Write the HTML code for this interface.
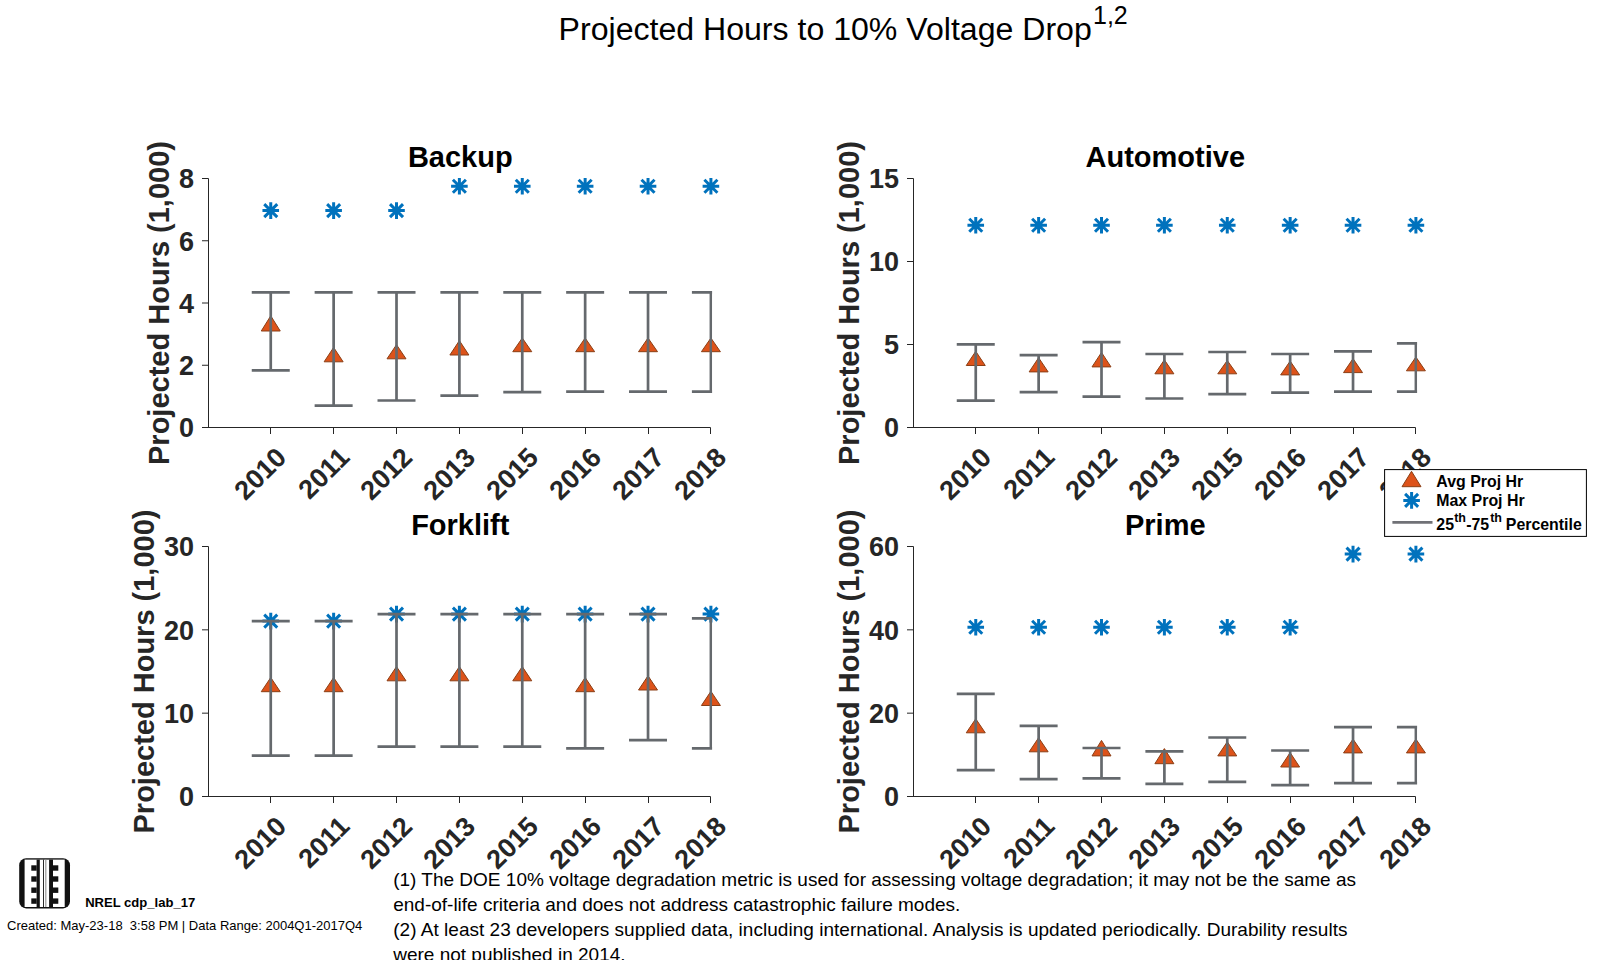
<!DOCTYPE html><html><head><meta charset="utf-8"><title>Projected Hours to 10% Voltage Drop</title><style>html,body{margin:0;padding:0;background:#fff;}svg{display:block;}text{font-family:"Liberation Sans",Arial,Helvetica,sans-serif;}</style></head><body>
<svg width="1600" height="960" viewBox="0 0 1600 960">
<rect width="1600" height="960" fill="#fff"/>
<text x="558.6" y="40" font-size="32.1" fill="#000">Projected Hours to 10% Voltage Drop</text><text x="1093" y="23.8" font-size="25" fill="#000">1,2</text>
<defs><clipPath id="c0"><rect x="208.5" y="178.5" width="503.6" height="249"/></clipPath><clipPath id="c1"><rect x="913.5" y="178.5" width="503.6" height="249"/></clipPath><clipPath id="c2"><rect x="208.5" y="546.5" width="503.6" height="250"/></clipPath><clipPath id="c3"><rect x="913.5" y="546.5" width="503.6" height="250"/></clipPath></defs>
<g><path d="M208.5 178.5V427.5M202 427.5H710.5" stroke="#262626" stroke-width="1" fill="none"/><text x="194" y="437.4" font-size="27" font-weight="bold" text-anchor="end" fill="#262626">0</text><text x="194" y="375.15" font-size="27" font-weight="bold" text-anchor="end" fill="#262626">2</text><text x="194" y="312.9" font-size="27" font-weight="bold" text-anchor="end" fill="#262626">4</text><text x="194" y="250.65" font-size="27" font-weight="bold" text-anchor="end" fill="#262626">6</text><text x="194" y="188.4" font-size="27" font-weight="bold" text-anchor="end" fill="#262626">8</text><text transform="translate(288,459) rotate(-45)" font-size="27" font-weight="bold" text-anchor="end" fill="#262626">2010</text><text transform="translate(351,459) rotate(-45)" font-size="27" font-weight="bold" text-anchor="end" fill="#262626">2011</text><text transform="translate(414,459) rotate(-45)" font-size="27" font-weight="bold" text-anchor="end" fill="#262626">2012</text><text transform="translate(477,459) rotate(-45)" font-size="27" font-weight="bold" text-anchor="end" fill="#262626">2013</text><text transform="translate(540,459) rotate(-45)" font-size="27" font-weight="bold" text-anchor="end" fill="#262626">2015</text><text transform="translate(603,459) rotate(-45)" font-size="27" font-weight="bold" text-anchor="end" fill="#262626">2016</text><text transform="translate(666,459) rotate(-45)" font-size="27" font-weight="bold" text-anchor="end" fill="#262626">2017</text><text transform="translate(728,459) rotate(-45)" font-size="27" font-weight="bold" text-anchor="end" fill="#262626">2018</text><path d="M202 427.5H208.5M202 365.25H208.5M202 303H208.5M202 240.75H208.5M202 178.5H208.5M270.5 427.5v6.5M333.5 427.5v6.5M396.5 427.5v6.5M459.5 427.5v6.5M522.5 427.5v6.5M585.5 427.5v6.5M648.5 427.5v6.5M710.5 427.5v6.5" stroke="#262626" stroke-width="1" fill="none"/><text x="460.3" y="166.9" font-size="29" font-weight="bold" text-anchor="middle" fill="#000">Backup</text><text transform="translate(169.3,303) rotate(-90)" font-size="29" font-weight="bold" text-anchor="middle" fill="#262626">Projected Hours (1,000)</text><path d="M262.45 210.6H279.05M270.75 202.3V218.9M264.25 204.1L277.25 217.1M264.25 217.1L277.25 204.1" stroke="#0072bd" stroke-width="3.0" fill="none"/><path d="M325.33 210.6H341.93M333.63 202.3V218.9M327.13 204.1L340.13 217.1M327.13 217.1L340.13 204.1" stroke="#0072bd" stroke-width="3.0" fill="none"/><path d="M388.21 210.6H404.81M396.51 202.3V218.9M390.01 204.1L403.01 217.1M390.01 217.1L403.01 204.1" stroke="#0072bd" stroke-width="3.0" fill="none"/><path d="M451.09 186.3H467.69M459.39 178V194.6M452.89 179.8L465.89 192.8M452.89 192.8L465.89 179.8" stroke="#0072bd" stroke-width="3.0" fill="none"/><path d="M513.97 186.3H530.57M522.27 178V194.6M515.77 179.8L528.77 192.8M515.77 192.8L528.77 179.8" stroke="#0072bd" stroke-width="3.0" fill="none"/><path d="M576.85 186.3H593.45M585.15 178V194.6M578.65 179.8L591.65 192.8M578.65 192.8L591.65 179.8" stroke="#0072bd" stroke-width="3.0" fill="none"/><path d="M639.73 186.3H656.33M648.03 178V194.6M641.53 179.8L654.53 192.8M641.53 192.8L654.53 179.8" stroke="#0072bd" stroke-width="3.0" fill="none"/><path d="M702.61 186.3H719.21M710.91 178V194.6M704.41 179.8L717.41 192.8M704.41 192.8L717.41 179.8" stroke="#0072bd" stroke-width="3.0" fill="none"/><path d="M270.75 315.8L280.25 331L261.25 331Z" fill="#dd531a" stroke="#8a3f16" stroke-width="1"/><path d="M333.63 347.4L343.13 361.8L324.13 361.8Z" fill="#dd531a" stroke="#8a3f16" stroke-width="1"/><path d="M396.51 344.7L406.01 358.8L387.01 358.8Z" fill="#dd531a" stroke="#8a3f16" stroke-width="1"/><path d="M459.39 340.6L468.89 355L449.89 355Z" fill="#dd531a" stroke="#8a3f16" stroke-width="1"/><path d="M522.27 338L531.77 351.7L512.77 351.7Z" fill="#dd531a" stroke="#8a3f16" stroke-width="1"/><path d="M585.15 338L594.65 351.7L575.65 351.7Z" fill="#dd531a" stroke="#8a3f16" stroke-width="1"/><path d="M648.03 338L657.53 351.7L638.53 351.7Z" fill="#dd531a" stroke="#8a3f16" stroke-width="1"/><path d="M710.91 338L720.41 351.7L701.41 351.7Z" fill="#dd531a" stroke="#8a3f16" stroke-width="1"/><path d="M270.75 292.4V370.4M251.75 292.4H289.75M251.75 370.4H289.75M333.63 292.4V405.6M314.63 292.4H352.63M314.63 405.6H352.63M396.51 292.4V400.5M377.51 292.4H415.51M377.51 400.5H415.51M459.39 292.4V395.6M440.39 292.4H478.39M440.39 395.6H478.39M522.27 292.4V392.1M503.27 292.4H541.27M503.27 392.1H541.27M585.15 292.4V391.6M566.15 292.4H604.15M566.15 391.6H604.15M648.03 292.4V391.6M629.03 292.4H667.03M629.03 391.6H667.03M710.91 292.4V391.6M691.91 292.4H729.91M691.91 391.6H729.91" stroke="#65696d" stroke-width="2.7" fill="none" clip-path="url(#c0)"/></g>
<g><path d="M913.5 178.5V427.5M907 427.5H1415.5" stroke="#262626" stroke-width="1" fill="none"/><text x="899" y="437.4" font-size="27" font-weight="bold" text-anchor="end" fill="#262626">0</text><text x="899" y="354.4" font-size="27" font-weight="bold" text-anchor="end" fill="#262626">5</text><text x="899" y="271.4" font-size="27" font-weight="bold" text-anchor="end" fill="#262626">10</text><text x="899" y="188.4" font-size="27" font-weight="bold" text-anchor="end" fill="#262626">15</text><text transform="translate(993,459) rotate(-45)" font-size="27" font-weight="bold" text-anchor="end" fill="#262626">2010</text><text transform="translate(1056,459) rotate(-45)" font-size="27" font-weight="bold" text-anchor="end" fill="#262626">2011</text><text transform="translate(1119,459) rotate(-45)" font-size="27" font-weight="bold" text-anchor="end" fill="#262626">2012</text><text transform="translate(1182,459) rotate(-45)" font-size="27" font-weight="bold" text-anchor="end" fill="#262626">2013</text><text transform="translate(1245,459) rotate(-45)" font-size="27" font-weight="bold" text-anchor="end" fill="#262626">2015</text><text transform="translate(1308,459) rotate(-45)" font-size="27" font-weight="bold" text-anchor="end" fill="#262626">2016</text><text transform="translate(1371,459) rotate(-45)" font-size="27" font-weight="bold" text-anchor="end" fill="#262626">2017</text><text transform="translate(1433,459) rotate(-45)" font-size="27" font-weight="bold" text-anchor="end" fill="#262626">2018</text><path d="M907 427.5H913.5M907 344.5H913.5M907 261.5H913.5M907 178.5H913.5M975.5 427.5v6.5M1038.5 427.5v6.5M1101.5 427.5v6.5M1164.5 427.5v6.5M1227.5 427.5v6.5M1290.5 427.5v6.5M1353.5 427.5v6.5M1415.5 427.5v6.5" stroke="#262626" stroke-width="1" fill="none"/><text x="1165.3" y="166.9" font-size="29" font-weight="bold" text-anchor="middle" fill="#000">Automotive</text><text transform="translate(858.8,303) rotate(-90)" font-size="29" font-weight="bold" text-anchor="middle" fill="#262626">Projected Hours (1,000)</text><path d="M967.45 225.2H984.05M975.75 216.9V233.5M969.25 218.7L982.25 231.7M969.25 231.7L982.25 218.7" stroke="#0072bd" stroke-width="3.0" fill="none"/><path d="M1030.33 225.2H1046.93M1038.63 216.9V233.5M1032.13 218.7L1045.13 231.7M1032.13 231.7L1045.13 218.7" stroke="#0072bd" stroke-width="3.0" fill="none"/><path d="M1093.21 225.2H1109.81M1101.51 216.9V233.5M1095.01 218.7L1108.01 231.7M1095.01 231.7L1108.01 218.7" stroke="#0072bd" stroke-width="3.0" fill="none"/><path d="M1156.09 225.2H1172.69M1164.39 216.9V233.5M1157.89 218.7L1170.89 231.7M1157.89 231.7L1170.89 218.7" stroke="#0072bd" stroke-width="3.0" fill="none"/><path d="M1218.97 225.2H1235.57M1227.27 216.9V233.5M1220.77 218.7L1233.77 231.7M1220.77 231.7L1233.77 218.7" stroke="#0072bd" stroke-width="3.0" fill="none"/><path d="M1281.85 225.2H1298.45M1290.15 216.9V233.5M1283.65 218.7L1296.65 231.7M1283.65 231.7L1296.65 218.7" stroke="#0072bd" stroke-width="3.0" fill="none"/><path d="M1344.73 225.2H1361.33M1353.03 216.9V233.5M1346.53 218.7L1359.53 231.7M1346.53 231.7L1359.53 218.7" stroke="#0072bd" stroke-width="3.0" fill="none"/><path d="M1407.61 225.2H1424.21M1415.91 216.9V233.5M1409.41 218.7L1422.41 231.7M1409.41 231.7L1422.41 218.7" stroke="#0072bd" stroke-width="3.0" fill="none"/><path d="M975.75 351.3L985.25 365.5L966.25 365.5Z" fill="#dd531a" stroke="#8a3f16" stroke-width="1"/><path d="M1038.63 357.7L1048.13 371.9L1029.13 371.9Z" fill="#dd531a" stroke="#8a3f16" stroke-width="1"/><path d="M1101.51 352.4L1111.01 366.9L1092.01 366.9Z" fill="#dd531a" stroke="#8a3f16" stroke-width="1"/><path d="M1164.39 359.8L1173.89 373.8L1154.89 373.8Z" fill="#dd531a" stroke="#8a3f16" stroke-width="1"/><path d="M1227.27 360.5L1236.77 373.8L1217.77 373.8Z" fill="#dd531a" stroke="#8a3f16" stroke-width="1"/><path d="M1290.15 361.1L1299.65 374.9L1280.65 374.9Z" fill="#dd531a" stroke="#8a3f16" stroke-width="1"/><path d="M1353.03 358.6L1362.53 372.6L1343.53 372.6Z" fill="#dd531a" stroke="#8a3f16" stroke-width="1"/><path d="M1415.91 357L1425.41 370.8L1406.41 370.8Z" fill="#dd531a" stroke="#8a3f16" stroke-width="1"/><path d="M975.75 344.4V400.6M956.75 344.4H994.75M956.75 400.6H994.75M1038.63 355.2V392.1M1019.63 355.2H1057.63M1019.63 392.1H1057.63M1101.51 342.1V396.7M1082.51 342.1H1120.51M1082.51 396.7H1120.51M1164.39 354V398.5M1145.39 354H1183.39M1145.39 398.5H1183.39M1227.27 352V394.2M1208.27 352H1246.27M1208.27 394.2H1246.27M1290.15 354V392.6M1271.15 354H1309.15M1271.15 392.6H1309.15M1353.03 351.3V391.6M1334.03 351.3H1372.03M1334.03 391.6H1372.03M1415.91 343.3V391.6M1396.91 343.3H1434.91M1396.91 391.6H1434.91" stroke="#65696d" stroke-width="2.7" fill="none" clip-path="url(#c1)"/></g>
<g><path d="M208.5 546.5V796.5M202 796.5H710.5" stroke="#262626" stroke-width="1" fill="none"/><text x="194" y="806.4" font-size="27" font-weight="bold" text-anchor="end" fill="#262626">0</text><text x="194" y="723.07" font-size="27" font-weight="bold" text-anchor="end" fill="#262626">10</text><text x="194" y="639.73" font-size="27" font-weight="bold" text-anchor="end" fill="#262626">20</text><text x="194" y="556.4" font-size="27" font-weight="bold" text-anchor="end" fill="#262626">30</text><text transform="translate(288,828) rotate(-45)" font-size="27" font-weight="bold" text-anchor="end" fill="#262626">2010</text><text transform="translate(351,828) rotate(-45)" font-size="27" font-weight="bold" text-anchor="end" fill="#262626">2011</text><text transform="translate(414,828) rotate(-45)" font-size="27" font-weight="bold" text-anchor="end" fill="#262626">2012</text><text transform="translate(477,828) rotate(-45)" font-size="27" font-weight="bold" text-anchor="end" fill="#262626">2013</text><text transform="translate(540,828) rotate(-45)" font-size="27" font-weight="bold" text-anchor="end" fill="#262626">2015</text><text transform="translate(603,828) rotate(-45)" font-size="27" font-weight="bold" text-anchor="end" fill="#262626">2016</text><text transform="translate(666,828) rotate(-45)" font-size="27" font-weight="bold" text-anchor="end" fill="#262626">2017</text><text transform="translate(728,828) rotate(-45)" font-size="27" font-weight="bold" text-anchor="end" fill="#262626">2018</text><path d="M202 796.5H208.5M202 713.17H208.5M202 629.83H208.5M202 546.5H208.5M270.5 796.5v6.5M333.5 796.5v6.5M396.5 796.5v6.5M459.5 796.5v6.5M522.5 796.5v6.5M585.5 796.5v6.5M648.5 796.5v6.5M710.5 796.5v6.5" stroke="#262626" stroke-width="1" fill="none"/><text x="460.3" y="534.9" font-size="29" font-weight="bold" text-anchor="middle" fill="#000">Forklift</text><text transform="translate(153.8,671.5) rotate(-90)" font-size="29" font-weight="bold" text-anchor="middle" fill="#262626">Projected Hours (1,000)</text><path d="M262.45 621.1H279.05M270.75 612.8V629.4M264.25 614.6L277.25 627.6M264.25 627.6L277.25 614.6" stroke="#0072bd" stroke-width="3.0" fill="none"/><path d="M325.33 621.1H341.93M333.63 612.8V629.4M327.13 614.6L340.13 627.6M327.13 627.6L340.13 614.6" stroke="#0072bd" stroke-width="3.0" fill="none"/><path d="M388.21 614.1H404.81M396.51 605.8V622.4M390.01 607.6L403.01 620.6M390.01 620.6L403.01 607.6" stroke="#0072bd" stroke-width="3.0" fill="none"/><path d="M451.09 614.1H467.69M459.39 605.8V622.4M452.89 607.6L465.89 620.6M452.89 620.6L465.89 607.6" stroke="#0072bd" stroke-width="3.0" fill="none"/><path d="M513.97 614.1H530.57M522.27 605.8V622.4M515.77 607.6L528.77 620.6M515.77 620.6L528.77 607.6" stroke="#0072bd" stroke-width="3.0" fill="none"/><path d="M576.85 614.1H593.45M585.15 605.8V622.4M578.65 607.6L591.65 620.6M578.65 620.6L591.65 607.6" stroke="#0072bd" stroke-width="3.0" fill="none"/><path d="M639.73 614.1H656.33M648.03 605.8V622.4M641.53 607.6L654.53 620.6M641.53 620.6L654.53 607.6" stroke="#0072bd" stroke-width="3.0" fill="none"/><path d="M702.61 614.1H719.21M710.91 605.8V622.4M704.41 607.6L717.41 620.6M704.41 620.6L717.41 607.6" stroke="#0072bd" stroke-width="3.0" fill="none"/><path d="M270.75 677.5L280.25 691.7L261.25 691.7Z" fill="#dd531a" stroke="#8a3f16" stroke-width="1"/><path d="M333.63 677.5L343.13 691.7L324.13 691.7Z" fill="#dd531a" stroke="#8a3f16" stroke-width="1"/><path d="M396.51 666.6L406.01 680.8L387.01 680.8Z" fill="#dd531a" stroke="#8a3f16" stroke-width="1"/><path d="M459.39 666.6L468.89 680.8L449.89 680.8Z" fill="#dd531a" stroke="#8a3f16" stroke-width="1"/><path d="M522.27 666.6L531.77 680.8L512.77 680.8Z" fill="#dd531a" stroke="#8a3f16" stroke-width="1"/><path d="M585.15 677.5L594.65 691.7L575.65 691.7Z" fill="#dd531a" stroke="#8a3f16" stroke-width="1"/><path d="M648.03 675.8L657.53 690L638.53 690Z" fill="#dd531a" stroke="#8a3f16" stroke-width="1"/><path d="M710.91 691.3L720.41 705.5L701.41 705.5Z" fill="#dd531a" stroke="#8a3f16" stroke-width="1"/><path d="M270.75 621.1V755.6M251.75 621.1H289.75M251.75 755.6H289.75M333.63 621.1V755.6M314.63 621.1H352.63M314.63 755.6H352.63M396.51 614.1V746.6M377.51 614.1H415.51M377.51 746.6H415.51M459.39 614.1V746.6M440.39 614.1H478.39M440.39 746.6H478.39M522.27 614.1V746.6M503.27 614.1H541.27M503.27 746.6H541.27M585.15 614.1V748.4M566.15 614.1H604.15M566.15 748.4H604.15M648.03 614.1V740.1M629.03 614.1H667.03M629.03 740.1H667.03M710.91 618.4V748.4M691.91 618.4H729.91M691.91 748.4H729.91" stroke="#65696d" stroke-width="2.7" fill="none" clip-path="url(#c2)"/></g>
<g><path d="M913.5 546.5V796.5M907 796.5H1415.5" stroke="#262626" stroke-width="1" fill="none"/><text x="899" y="806.4" font-size="27" font-weight="bold" text-anchor="end" fill="#262626">0</text><text x="899" y="723.07" font-size="27" font-weight="bold" text-anchor="end" fill="#262626">20</text><text x="899" y="639.73" font-size="27" font-weight="bold" text-anchor="end" fill="#262626">40</text><text x="899" y="556.4" font-size="27" font-weight="bold" text-anchor="end" fill="#262626">60</text><text transform="translate(993,828) rotate(-45)" font-size="27" font-weight="bold" text-anchor="end" fill="#262626">2010</text><text transform="translate(1056,828) rotate(-45)" font-size="27" font-weight="bold" text-anchor="end" fill="#262626">2011</text><text transform="translate(1119,828) rotate(-45)" font-size="27" font-weight="bold" text-anchor="end" fill="#262626">2012</text><text transform="translate(1182,828) rotate(-45)" font-size="27" font-weight="bold" text-anchor="end" fill="#262626">2013</text><text transform="translate(1245,828) rotate(-45)" font-size="27" font-weight="bold" text-anchor="end" fill="#262626">2015</text><text transform="translate(1308,828) rotate(-45)" font-size="27" font-weight="bold" text-anchor="end" fill="#262626">2016</text><text transform="translate(1371,828) rotate(-45)" font-size="27" font-weight="bold" text-anchor="end" fill="#262626">2017</text><text transform="translate(1433,828) rotate(-45)" font-size="27" font-weight="bold" text-anchor="end" fill="#262626">2018</text><path d="M907 796.5H913.5M907 713.17H913.5M907 629.83H913.5M907 546.5H913.5M975.5 796.5v6.5M1038.5 796.5v6.5M1101.5 796.5v6.5M1164.5 796.5v6.5M1227.5 796.5v6.5M1290.5 796.5v6.5M1353.5 796.5v6.5M1415.5 796.5v6.5" stroke="#262626" stroke-width="1" fill="none"/><text x="1165.3" y="534.9" font-size="29" font-weight="bold" text-anchor="middle" fill="#000">Prime</text><text transform="translate(858.8,671.5) rotate(-90)" font-size="29" font-weight="bold" text-anchor="middle" fill="#262626">Projected Hours (1,000)</text><path d="M967.45 627.2H984.05M975.75 618.9V635.5M969.25 620.7L982.25 633.7M969.25 633.7L982.25 620.7" stroke="#0072bd" stroke-width="3.0" fill="none"/><path d="M1030.33 627.2H1046.93M1038.63 618.9V635.5M1032.13 620.7L1045.13 633.7M1032.13 633.7L1045.13 620.7" stroke="#0072bd" stroke-width="3.0" fill="none"/><path d="M1093.21 627.2H1109.81M1101.51 618.9V635.5M1095.01 620.7L1108.01 633.7M1095.01 633.7L1108.01 620.7" stroke="#0072bd" stroke-width="3.0" fill="none"/><path d="M1156.09 627.2H1172.69M1164.39 618.9V635.5M1157.89 620.7L1170.89 633.7M1157.89 633.7L1170.89 620.7" stroke="#0072bd" stroke-width="3.0" fill="none"/><path d="M1218.97 627.2H1235.57M1227.27 618.9V635.5M1220.77 620.7L1233.77 633.7M1220.77 633.7L1233.77 620.7" stroke="#0072bd" stroke-width="3.0" fill="none"/><path d="M1281.85 627.2H1298.45M1290.15 618.9V635.5M1283.65 620.7L1296.65 633.7M1283.65 633.7L1296.65 620.7" stroke="#0072bd" stroke-width="3.0" fill="none"/><path d="M1344.73 554.1H1361.33M1353.03 545.8V562.4M1346.53 547.6L1359.53 560.6M1346.53 560.6L1359.53 547.6" stroke="#0072bd" stroke-width="3.0" fill="none"/><path d="M1407.61 554.1H1424.21M1415.91 545.8V562.4M1409.41 547.6L1422.41 560.6M1409.41 560.6L1422.41 547.6" stroke="#0072bd" stroke-width="3.0" fill="none"/><path d="M975.75 718.8L985.25 732.8L966.25 732.8Z" fill="#dd531a" stroke="#8a3f16" stroke-width="1"/><path d="M1038.63 737.7L1048.13 751.8L1029.13 751.8Z" fill="#dd531a" stroke="#8a3f16" stroke-width="1"/><path d="M1101.51 740.4L1111.01 755.9L1092.01 755.9Z" fill="#dd531a" stroke="#8a3f16" stroke-width="1"/><path d="M1164.39 748.6L1173.89 763.7L1154.89 763.7Z" fill="#dd531a" stroke="#8a3f16" stroke-width="1"/><path d="M1227.27 741.8L1236.77 755.9L1217.77 755.9Z" fill="#dd531a" stroke="#8a3f16" stroke-width="1"/><path d="M1290.15 752.6L1299.65 767L1280.65 767Z" fill="#dd531a" stroke="#8a3f16" stroke-width="1"/><path d="M1353.03 739.1L1362.53 752.9L1343.53 752.9Z" fill="#dd531a" stroke="#8a3f16" stroke-width="1"/><path d="M1415.91 739.1L1425.41 752.9L1406.41 752.9Z" fill="#dd531a" stroke="#8a3f16" stroke-width="1"/><path d="M975.75 693.8V770.2M956.75 693.8H994.75M956.75 770.2H994.75M1038.63 725.8V779.2M1019.63 725.8H1057.63M1019.63 779.2H1057.63M1101.51 748V778.4M1082.51 748H1120.51M1082.51 778.4H1120.51M1164.39 751.3V783.8M1145.39 751.3H1183.39M1145.39 783.8H1183.39M1227.27 737.5V781.9M1208.27 737.5H1246.27M1208.27 781.9H1246.27M1290.15 750.5V785.1M1271.15 750.5H1309.15M1271.15 785.1H1309.15M1353.03 727.2V783.2M1334.03 727.2H1372.03M1334.03 783.2H1372.03M1415.91 727.2V783.2M1396.91 727.2H1434.91M1396.91 783.2H1434.91" stroke="#65696d" stroke-width="2.7" fill="none" clip-path="url(#c3)"/></g>
<g>
<rect x="1384.6" y="469.6" width="201.8" height="66.8" fill="#fff" stroke="#000" stroke-width="1"/>
<path d="M1411.5 471.3L1421 486.7L1402 486.7Z" fill="#dd531a" stroke="#8a3f16" stroke-width="1"/>
<path d="M1403.3 500.4H1419.9M1411.6 492.1V508.7M1405.1 493.9L1418.1 506.9M1405.1 506.9L1418.1 493.9" stroke="#0072bd" stroke-width="3.0" fill="none"/>
<path d="M1392.4 522.45H1432.5" stroke="#707176" stroke-width="2.8"/>
<text x="1436.3" y="486.6" font-size="15.9" font-weight="bold" fill="#000">Avg Proj Hr</text>
<text x="1436.3" y="506.4" font-size="15.9" font-weight="bold" fill="#000">Max Proj Hr</text>
<text y="529.6" font-size="15.9" font-weight="bold" fill="#000"><tspan x="1436.3">25</tspan><tspan x="1454.2" y="522" font-size="12.5">th</tspan><tspan x="1466.2" y="529.6">-75</tspan><tspan x="1490.2" y="522" font-size="12.5">th</tspan><tspan x="1505.8" y="529.6">Percentile</tspan></text>
</g>
<g><rect x="19.2" y="858.2" width="50.8" height="50.2" rx="7" ry="7" fill="#111"/><rect x="24.6" y="859.6" width="40.1" height="47.4" fill="#fff"/><rect x="36.6" y="859.6" width="3.2" height="47.4" fill="#111"/><rect x="49.1" y="859.6" width="3.9" height="47.4" fill="#111"/><rect x="43" y="859.6" width="0.9" height="47.4" fill="#111"/><rect x="45.2" y="859.6" width="1.2" height="47.4" fill="#999"/><rect x="31.3" y="865.3" width="5.4" height="5.4" fill="#111"/><rect x="52.9" y="865.3" width="5.4" height="5.4" fill="#111"/><rect x="31.3" y="876.3" width="5.4" height="5.4" fill="#111"/><rect x="52.9" y="876.3" width="5.4" height="5.4" fill="#111"/><rect x="31.3" y="887.5" width="5.4" height="5.4" fill="#111"/><rect x="52.9" y="887.5" width="5.4" height="5.4" fill="#111"/><rect x="31.3" y="898.4" width="5.4" height="5.4" fill="#111"/><rect x="52.9" y="898.4" width="5.4" height="5.4" fill="#111"/></g>
<text x="85.2" y="907" font-size="13.05" font-weight="bold" fill="#000">NREL cdp_lab_17</text>
<text x="7" y="930" font-size="13" fill="#000" xml:space="preserve" style="white-space:pre">Created: May-23-18  3:58 PM | Data Range: 2004Q1-2017Q4</text>
<text x="393.2" y="885.7" font-size="19" fill="#000">(1) The DOE 10% voltage degradation metric is used for assessing voltage degradation; it may not be the same as</text>
<text x="393.2" y="910.7" font-size="19" fill="#000">end-of-life criteria and does not address catastrophic failure modes.</text>
<text x="393.2" y="935.7" font-size="19" fill="#000" textLength="954.3" lengthAdjust="spacing">(2) At least 23 developers supplied data, including international. Analysis is updated periodically. Durability results</text>
<text x="393.2" y="960.7" font-size="19" fill="#000">were not published in 2014.</text>
</svg></body></html>
